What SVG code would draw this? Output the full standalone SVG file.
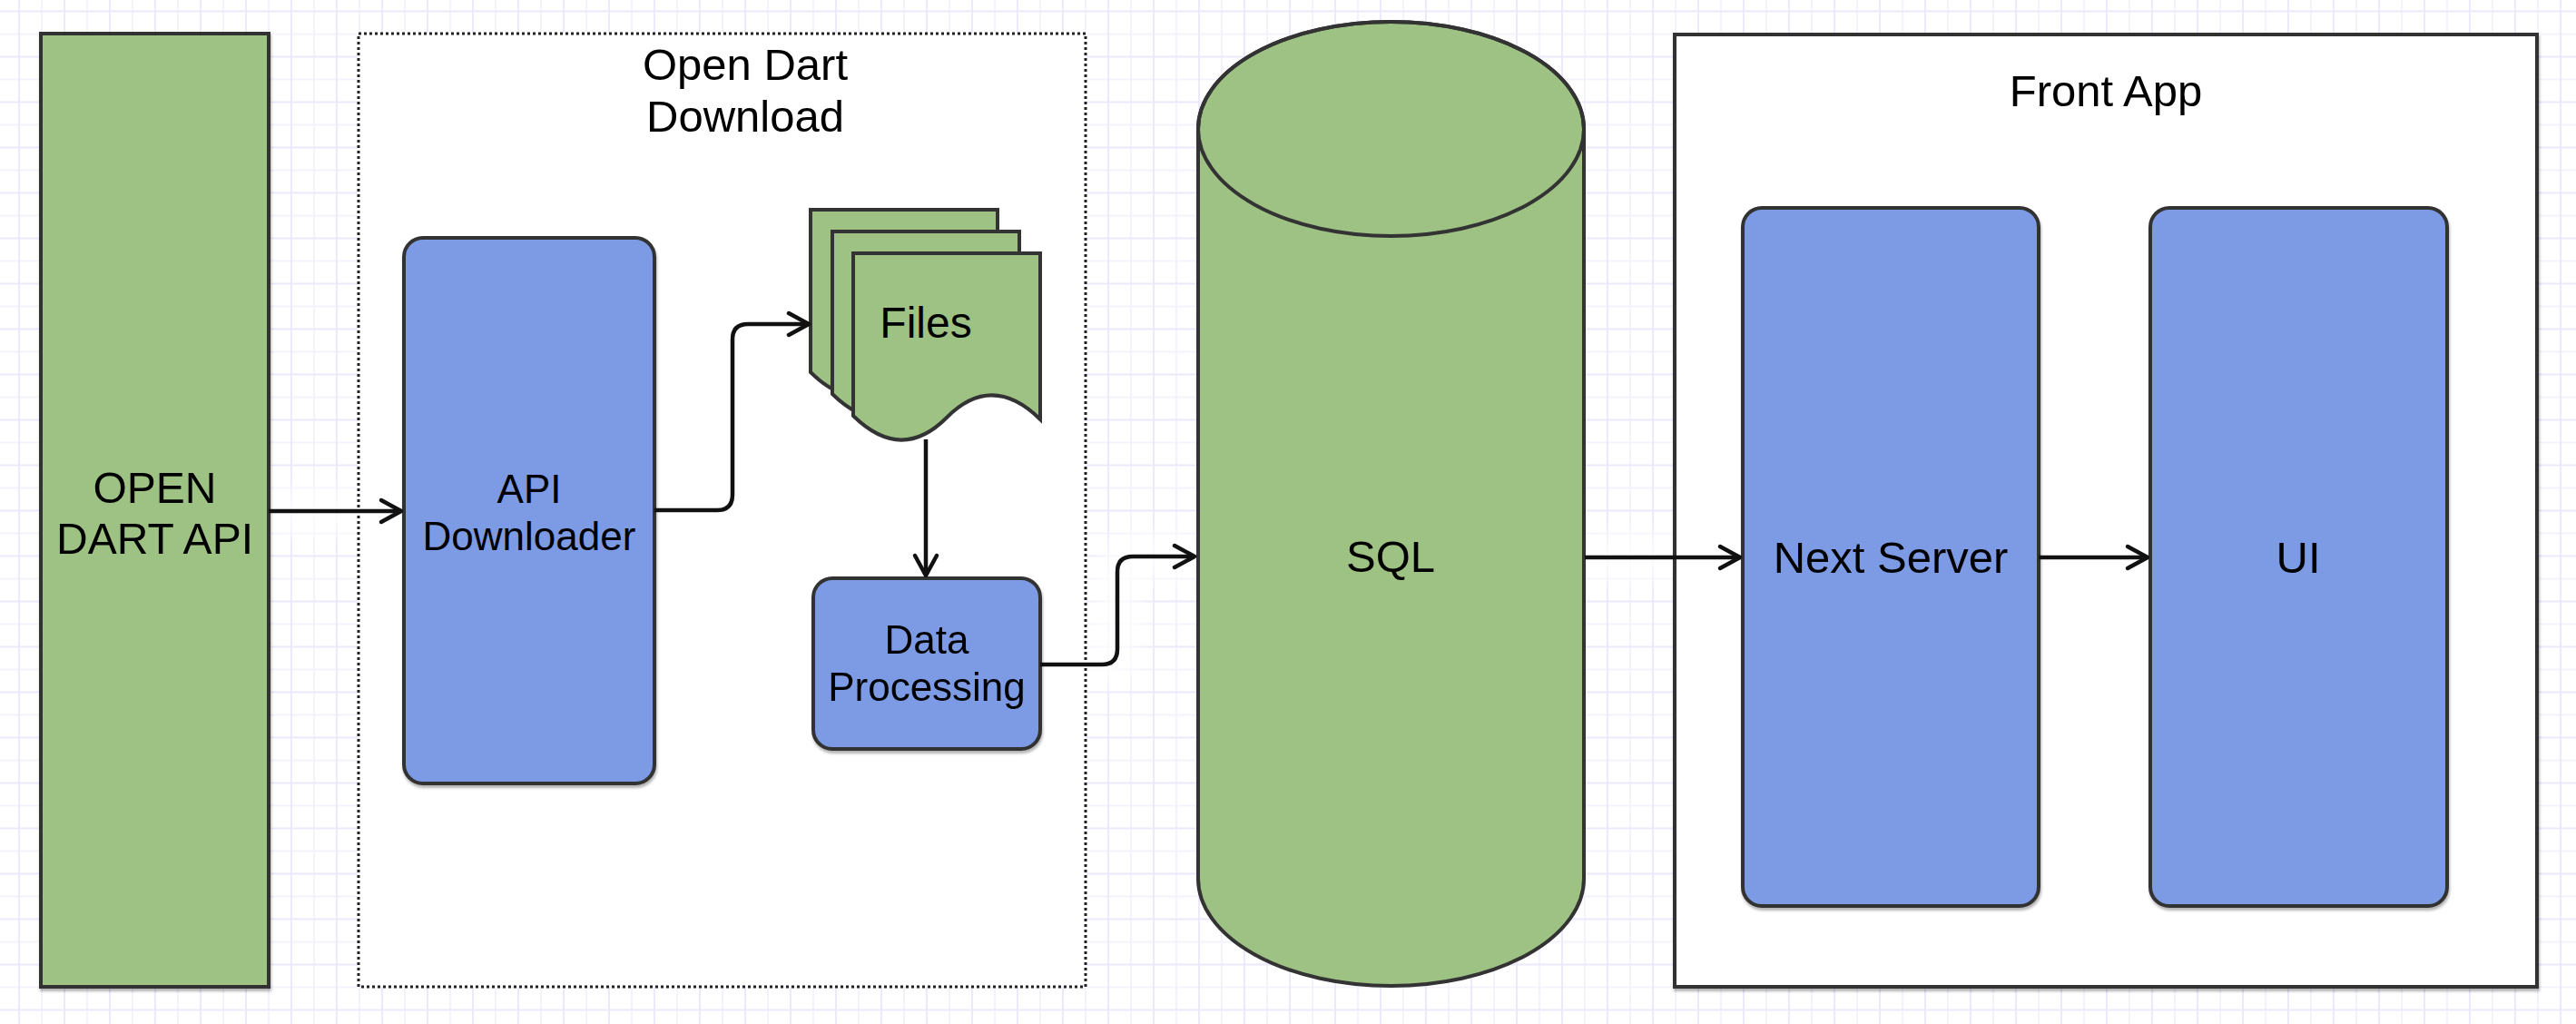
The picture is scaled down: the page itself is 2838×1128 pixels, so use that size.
<svg xmlns="http://www.w3.org/2000/svg" width="2838" height="1128" viewBox="0 0 2838 1128">
  <defs>
    <pattern id="grid" x="20" y="11.5" width="50" height="50" patternUnits="userSpaceOnUse">
      <rect x="0" y="0" width="50" height="50" fill="#ffffff"/>
      <rect x="25" y="0" width="2" height="50" fill="#f3f2fd"/>
      <rect x="0" y="25" width="50" height="2" fill="#f3f2fd"/>
      <rect x="0" y="0" width="2" height="50" fill="#ebe9fb"/>
      <rect x="0" y="0" width="50" height="2" fill="#ebe9fb"/>
    </pattern>
    <filter id="shadow" x="-10%" y="-10%" width="120%" height="120%">
      <feDropShadow dx="1" dy="3" stdDeviation="1.5" flood-color="#000" flood-opacity="0.3"/>
    </filter>
    <filter id="glow" x="-20%" y="-20%" width="140%" height="140%">
      <feGaussianBlur stdDeviation="12"/>
    </filter>
    <marker id="arrow" viewBox="-28 -18 34 36" markerWidth="34" markerHeight="36" refX="0" refY="0" markerUnits="userSpaceOnUse" orient="auto" overflow="visible">
      <path d="M-22,-12 L0,0 L-22,12" fill="none" stroke="#111" stroke-width="4.5" stroke-linecap="round" stroke-linejoin="round"/>
    </marker>
    <path id="doc" d="M0,0 H206 V183 Q153,131 103,181 Q53,231 0,179 Z"/>
  </defs>
  <style>
    .lbl { font-family: "Liberation Sans", Arial, Helvetica, sans-serif; fill: #000; text-anchor: middle; }
    .green { fill: #9ec284; stroke: #333; stroke-width: 4; }
    .blue { fill: #7b9be4; stroke: #333; stroke-width: 4; }
    .edge { fill: none; stroke: #111; stroke-width: 4.5; stroke-linejoin: round; marker-end: url(#arrow); }
    .halo { fill: none; stroke: #ffffff; stroke-width: 50; opacity: 0.75; }
  </style>

  <rect x="0" y="0" width="2838" height="1128" fill="url(#grid)"/>

  <g id="connector-halos" filter="url(#glow)">
    <path class="halo" d="M296,563 H443"/>
    <path class="halo" d="M721,562 H790 Q807,562 807,545 V374 Q807,357 824,357 H892"/>
    <path class="halo" d="M1020,484 V635"/>
    <path class="halo" d="M1146,732 H1214 Q1231,732 1231,715 V630 Q1231,613 1248,613 H1317"/>
    <path class="halo" d="M1746,614 H1918"/>
  </g>

  <g id="group-open-dart-download">
    <rect x="395" y="37" width="801" height="1050" fill="#ffffff" stroke="#222" stroke-width="3" stroke-dasharray="3 3"/>
    <text class="lbl" font-size="49" x="821" y="88">Open Dart</text>
    <text class="lbl" font-size="49" x="821" y="145">Download</text>
  </g>

  <g id="group-front-app">
    <rect x="1845" y="38" width="950" height="1049" fill="#ffffff" stroke="#333" stroke-width="4" filter="url(#shadow)"/>
    <text class="lbl" font-size="49" x="2320" y="117">Front App</text>
  </g>

  <g id="node-open-dart-api">
    <rect class="green" x="45" y="37" width="251" height="1050" filter="url(#shadow)"/>
    <text class="lbl" font-size="48" x="170.5" y="554">OPEN</text>
    <text class="lbl" font-size="48" x="170.5" y="610">DART API</text>
  </g>

  <g id="node-api-downloader">
    <rect class="blue" x="445" y="262" width="276" height="601" rx="21" ry="21" filter="url(#shadow)"/>
    <text class="lbl" font-size="44" x="583" y="554">API</text>
    <text class="lbl" font-size="44" x="583" y="606">Downloader</text>
  </g>

  <g id="node-files">
    <use href="#doc" class="green" transform="translate(893,231)"/>
    <use href="#doc" class="green" transform="translate(917,255)"/>
    <use href="#doc" class="green" transform="translate(940,279)"/>
    <text class="lbl" font-size="48" x="1020" y="372">Files</text>
  </g>

  <g id="node-data-processing">
    <rect class="blue" x="896" y="637" width="250" height="188" rx="21" ry="21" filter="url(#shadow)"/>
    <text class="lbl" font-size="44" x="1021" y="720">Data</text>
    <text class="lbl" font-size="44" x="1021" y="772">Processing</text>
  </g>

  <g id="node-sql">
    <path class="green" d="M1320,142 A212.5,118 0 0 1 1745,142 V968 A212.5,118 0 0 1 1320,968 Z"/>
    <ellipse cx="1532.5" cy="142" rx="212.5" ry="118" fill="none" stroke="#333" stroke-width="4"/>
    <text class="lbl" font-size="49" x="1532" y="630">SQL</text>
  </g>

  <g id="node-next-server">
    <rect class="blue" x="1920" y="229" width="326" height="769" rx="21" ry="21" filter="url(#shadow)"/>
    <text class="lbl" font-size="49" x="2083" y="631">Next Server</text>
  </g>

  <g id="node-ui">
    <rect class="blue" x="2369" y="229" width="327" height="769" rx="21" ry="21" filter="url(#shadow)"/>
    <text class="lbl" font-size="49" x="2532" y="631">UI</text>
  </g>

  <g id="connectors">
    <path class="edge" d="M296,563 H442"/>
    <path class="edge" d="M721,562 H790 Q807,562 807,545 V374 Q807,357 824,357 H891"/>
    <path class="edge" d="M1020,484 V634"/>
    <path class="edge" d="M1146,732 H1214 Q1231,732 1231,715 V630 Q1231,613 1248,613 H1316"/>
    <path class="edge" d="M1746,614 H1917"/>
    <path class="edge" d="M2246,614 H2366"/>
  </g>
</svg>
